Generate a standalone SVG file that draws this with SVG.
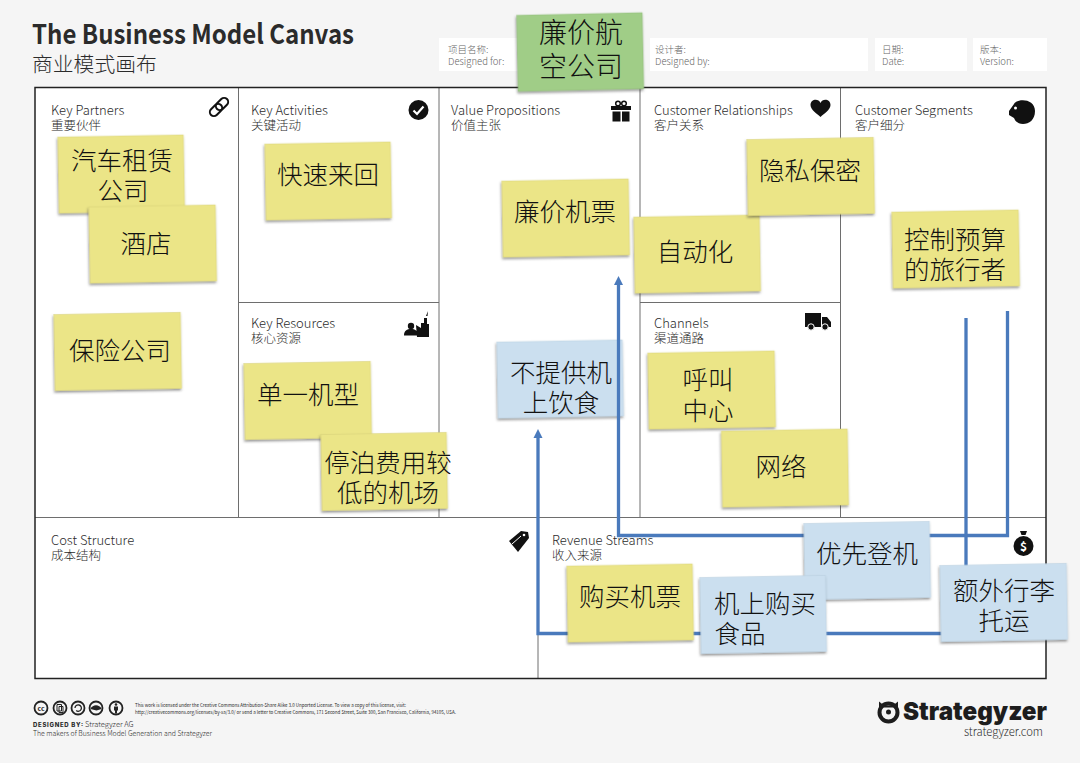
<svg xmlns="http://www.w3.org/2000/svg" width="1080" height="763" viewBox="0 0 1080 763">
<style>
text{font-family:"Noto Sans CJK SC","Noto Sans",sans-serif;fill:#2b2b2b}
.h{font-size:13px;font-weight:300}
.s{font-size:12.500px;font-weight:300}
.m{font-size:9.500px;fill:#666;font-weight:300}
.n{font-size:25.500px;font-weight:200;text-anchor:middle;fill:#111}
.y{fill:#ebe587;stroke:#d8d27a;stroke-width:.5;filter:url(#sh)}
.b{fill:#cbdfef;stroke:#b9cfe0;stroke-width:.5;filter:url(#sh)}
.g{fill:#a0cd87;stroke:#8fbb78;stroke-width:.5;filter:url(#sh)}
.cell{stroke:#6e6e6e;stroke-width:1;fill:none}
.wire{fill:none;stroke:#4a7abc;stroke-width:3.300}
.i{fill:#111}
.cc{fill:none;stroke:#222;stroke-width:1.8}
</style>
<defs>
<filter id="sh" x="-10%" y="-10%" width="120%" height="125%"><feDropShadow dx="-.7" dy="1.800" stdDeviation="1" flood-color="#333" flood-opacity=".5"/></filter>
<marker id="ah" markerUnits="userSpaceOnUse" markerWidth="10" markerHeight="10" refX="3" refY="5" orient="auto"><path d="M0,.5L9,5L0,9.5z" fill="#4a7abc"/></marker>
</defs>
<rect width="1080" height="763" fill="#f5f5f5"/>

<g id="header">
<text x="32" y="44" font-size="27" font-weight="700" fill="#222" textLength="322" lengthAdjust="spacingAndGlyphs">The Business Model Canvas</text>
<text x="32" y="72" font-size="20.800" font-weight="300">商业模式画布</text>
<rect x="439" y="38" width="80" height="33" fill="#fff"/>
<rect x="650" y="38" width="218" height="33" fill="#fff"/>
<rect x="875" y="38" width="92" height="33" fill="#fff"/>
<rect x="973" y="38" width="74" height="33" fill="#fff"/>
<text class="m" x="448" y="53">项目名称:</text><text class="m" x="448" y="65">Designed for:</text>
<text class="m" x="655" y="53">设计者:</text><text class="m" x="655" y="65">Designed by:</text>
<text class="m" x="882" y="53">日期:</text><text class="m" x="882" y="65">Date:</text>
<text class="m" x="980" y="53">版本:</text><text class="m" x="980" y="65">Version:</text>
</g>

<g id="canvas">
<rect x="35" y="87.500" width="1011" height="591" fill="#fff"/>
<path class="cell" d="M238.500 87V517M439 87V517M640 87V517M840.500 87V517M238 302.500H439M640 302.500H840M35 517.500H1046M538 517V678"/>
<rect x="35" y="87.500" width="1011" height="591" fill="none" stroke="#222" stroke-width="1.5"/>
</g>

<g id="labels">
<text class="h" x="51" y="115">Key Partners</text><text class="s" x="51" y="130">重要伙伴</text>
<text class="h" x="251" y="115">Key Activities</text><text class="s" x="251" y="130">关键活动</text>
<text class="h" x="451" y="115">Value Propositions</text><text class="s" x="451" y="130">价值主张</text>
<text class="h" x="654" y="115">Customer Relationships</text><text class="s" x="654" y="130">客户关系</text>
<text class="h" x="855" y="115">Customer Segments</text><text class="s" x="855" y="130">客户细分</text>
<text class="h" x="251" y="328">Key Resources</text><text class="s" x="251" y="343">核心资源</text>
<text class="h" x="654" y="328">Channels</text><text class="s" x="654" y="343">渠道通路</text>
<text class="h" x="51" y="545">Cost Structure</text><text class="s" x="51" y="560">成本结构</text>
<text class="h" x="552" y="545">Revenue Streams</text><text class="s" x="552" y="560">收入来源</text>
</g>

<g id="icons">
<g id="icon-link" fill="none" stroke="#111" stroke-width="2"><rect x="209" y="106" width="14" height="8" rx="4" transform="rotate(-45 216 110)"/><rect x="215" y="100" width="14" height="8" rx="4" transform="rotate(-45 222 104)"/></g>
<g id="icon-check"><circle class="i" cx="418.500" cy="110" r="10"/><path d="M413.500 110.500l3.500 3.500 6.500-7.500" fill="none" stroke="#fff" stroke-width="2.200"/></g>
<g id="icon-gift"><path class="i" d="M611 106h20v4h-20zM612.500 111.500h8v10h-8zM622 111.500h7.500v10H622z"/><circle cx="618" cy="103.500" r="2.300" fill="none" stroke="#111" stroke-width="1.500"/><circle cx="624" cy="103.500" r="2.300" fill="none" stroke="#111" stroke-width="1.500"/></g>
<path id="icon-heart" class="i" d="M820.500 117c-3-3-10-7-10-12 0-6 8-7 10-2 2-5 10-4 10 2 0 5-7 9-10 12z"/>
<g id="icon-face"><path class="i" d="M1009 111l5-7c3-6 21-6 21 7 0 9-6 13-12 13-5 0-8-3-9-6l-5-3z"/><circle cx="1015.500" cy="108" r="1.500" fill="#fff"/></g>
<g id="icon-factory" class="i"><circle cx="411" cy="326" r="3.200"/><path d="M404 335.500c0-5 3-6.500 7-6.500s7 1.500 7 6.500zM416 325l5 3v-5h3v-5h3v6h2v13h-12z"/><path d="M426 316l2-5-.5 5z"/></g>
<g id="icon-truck"><path class="i" d="M805 313h16v14h-16zM822 317h5l4 5v5h-9z"/><circle cx="811" cy="327" r="3.200" fill="#111" stroke="#fff"/><circle cx="825" cy="327" r="3.200" fill="#111" stroke="#fff"/></g>
<g id="icon-tag"><path class="i" d="M509 541l12-10 7 1 1 6-11 14z"/><path d="M512 544l9-8" stroke="#fff" fill="none"/><circle cx="524" cy="535" r="1.300" fill="#fff"/></g>
<g id="icon-bag"><path class="i" d="M1020 531h7l-1.500 4h-4z"/><circle class="i" cx="1023.500" cy="546" r="10"/><text x="1023.500" y="550.500" font-size="12" font-weight="700" text-anchor="middle" style="fill:#fff">$</text></g>
</g>

<g id="note-no-meal"><rect class="b" x="497.500" y="341" width="125.500" height="76" transform="rotate(-1 560 379)"/><text class="n" x="561" y="382">不提供机</text><text class="n" x="561" y="412">上饮食</text></g>

<g id="connectors">
<path class="wire" d="M1007.500 311V535.500H618.500V282" marker-end="url(#ah)"/>
<path class="wire" d="M966 318V633.500H538V435" marker-end="url(#ah)"/>
</g>

<g id="note-airline"><rect class="g" x="517.500" y="14" width="125.500" height="76" transform="rotate(-1.200 580 52)"/><text class="n" style="font-size:28px" x="581" y="43">廉价航</text><text class="n" style="font-size:28px" x="581" y="77">空公司</text></g>
<g id="note-car"><rect class="y" x="58.500" y="136" width="125.500" height="76" transform="rotate(-1 121 174)"/><text class="n" x="122" y="170">汽车租赁</text><text class="n" x="123" y="200">公司</text></g>
<g id="note-hotel"><rect class="y" x="89.500" y="206" width="126.500" height="76" transform="rotate(-1 152 244)"/><text class="n" x="146" y="253">酒店</text></g>
<g id="note-insurance"><rect class="y" x="54.500" y="313.500" width="126.500" height="76" transform="rotate(-1 117 351)"/><text class="n" x="120" y="360">保险公司</text></g>
<g id="note-turnaround"><rect class="y" x="265.500" y="143" width="125.500" height="76" transform="rotate(-1 328 181)"/><text class="n" x="328" y="184">快速来回</text></g>
<g id="note-fleet"><rect class="y" x="244.500" y="362.500" width="126.500" height="76" transform="rotate(-1 307 400)"/><text class="n" x="308" y="404">单一机型</text></g>
<g id="note-airport"><rect class="y" x="321.500" y="433.500" width="125.500" height="76" transform="rotate(-1 384 471)"/><text class="n" x="388" y="472">停泊费用较</text><text class="n" x="388" y="502">低的机场</text></g>
<g id="note-fare"><rect class="y" x="502.500" y="180" width="126.500" height="76" transform="rotate(-1 565 218)"/><text class="n" x="565" y="221">廉价机票</text></g>
<g id="note-automation"><rect class="y" x="634.500" y="216" width="125.500" height="76" transform="rotate(-1 697 254)"/><text class="n" x="695" y="261">自动化</text></g>
<g id="note-privacy"><rect class="y" x="747.500" y="138.500" width="126.500" height="76" transform="rotate(-1 810 176)"/><text class="n" x="810" y="180">隐私保密</text></g>
<g id="note-callcenter"><rect class="y" x="648.500" y="352" width="126.500" height="76" transform="rotate(-1 711 390)"/><text class="n" x="708" y="389">呼叫</text><text class="n" x="708" y="420">中心</text></g>
<g id="note-web"><rect class="y" x="722" y="430" width="126" height="76" transform="rotate(-1 785 468)"/><text class="n" x="781" y="476">网络</text></g>
<g id="note-traveller"><rect class="y" x="892.500" y="211" width="126.500" height="76" transform="rotate(-1 955 249)"/><text class="n" x="955" y="249">控制预算</text><text class="n" x="955" y="279">的旅行者</text></g>
<g id="note-priority"><rect class="b" x="804.500" y="522.500" width="125.500" height="76" transform="rotate(-1 867 560)"/><text class="n" x="867" y="563">优先登机</text></g>
<g id="note-ticket"><rect class="y" x="567.500" y="565" width="125.500" height="76" transform="rotate(-1 630 603)"/><text class="n" x="630" y="606">购买机票</text></g>
<g id="note-onboard"><rect class="b" x="700.500" y="576.500" width="125.500" height="76" transform="rotate(-1 763 614)"/><text class="n" x="765" y="613">机上购买</text><text class="n" x="740" y="643">食品</text></g>
<g id="note-baggage"><rect class="b" x="940.500" y="564.500" width="126.500" height="76" transform="rotate(-1 1003 602)"/><text class="n" x="1004" y="600">额外行李</text><text class="n" x="1004" y="630">托运</text></g>

<g id="footer">
<g class="cc"><circle cx="41" cy="708" r="6.500"/><circle cx="60" cy="708" r="6.500"/><circle cx="78" cy="708" r="6.500"/><circle cx="96" cy="708" r="6.500"/><circle cx="116" cy="708" r="6.500"/></g>
<text x="41" y="710.500" font-size="7" font-weight="700" text-anchor="middle">cc</text>
<path d="M57 704.500h4.500v6.500H57zM59 706.500h4v6h-4z" fill="none" stroke="#222"/>
<path d="M75 708a3.200 3.200 0 1 1 1.200 2.600" fill="none" stroke="#222" stroke-width="1.300"/>
<path d="M90.500 709c2-5 9-5 11 0l-5 1.500z" fill="#222"/>
<circle cx="116" cy="704.500" r="1.300" fill="#222"/><path d="M114 706.500h4v4h-1v3h-2v-3h-1z" fill="#222"/>
<text x="135" y="707" font-size="5" fill="#555" textLength="271" lengthAdjust="spacingAndGlyphs">This work is licensed under the Creative Commons Attribution-Share Alike 3.0 Unported License. To view a copy of this license, visit:</text>
<text x="135" y="714" font-size="5" fill="#555" textLength="321" lengthAdjust="spacingAndGlyphs">http://creativecommons.org/licenses/by-sa/3.0/ or send a letter to Creative Commons, 171 Second Street, Suite 300, San Francisco, California, 94105, USA.</text>
<text x="33" y="727" font-size="6" font-weight="800" textLength="50" style="font-family:Inter,sans-serif">DESIGNED BY:</text>
<text x="85" y="727" font-size="7.500" font-weight="300">Strategyzer AG</text>
<text x="33" y="736" font-size="7.500" font-weight="300" textLength="179" lengthAdjust="spacingAndGlyphs">The makers of Business Model Generation and Strategyzer</text>
<g id="logo"><circle cx="888.500" cy="712.500" r="9" fill="none" stroke="#1d1d1d" stroke-width="4"/><path d="M879 701.500l5 4h9l5-4v6h-19z" fill="#1d1d1d"/><circle cx="888.500" cy="712" r="2.500" fill="#1d1d1d"/></g>
<text x="903" y="720" font-size="25" font-weight="900" textLength="144" lengthAdjust="spacingAndGlyphs" style="font-family:Inter,sans-serif;fill:#1d1d1d">Strategyzer</text>
<text x="964" y="736" font-size="11.500" font-weight="300" textLength="79" lengthAdjust="spacingAndGlyphs">strategyzer.com</text>
</g>
</svg>
